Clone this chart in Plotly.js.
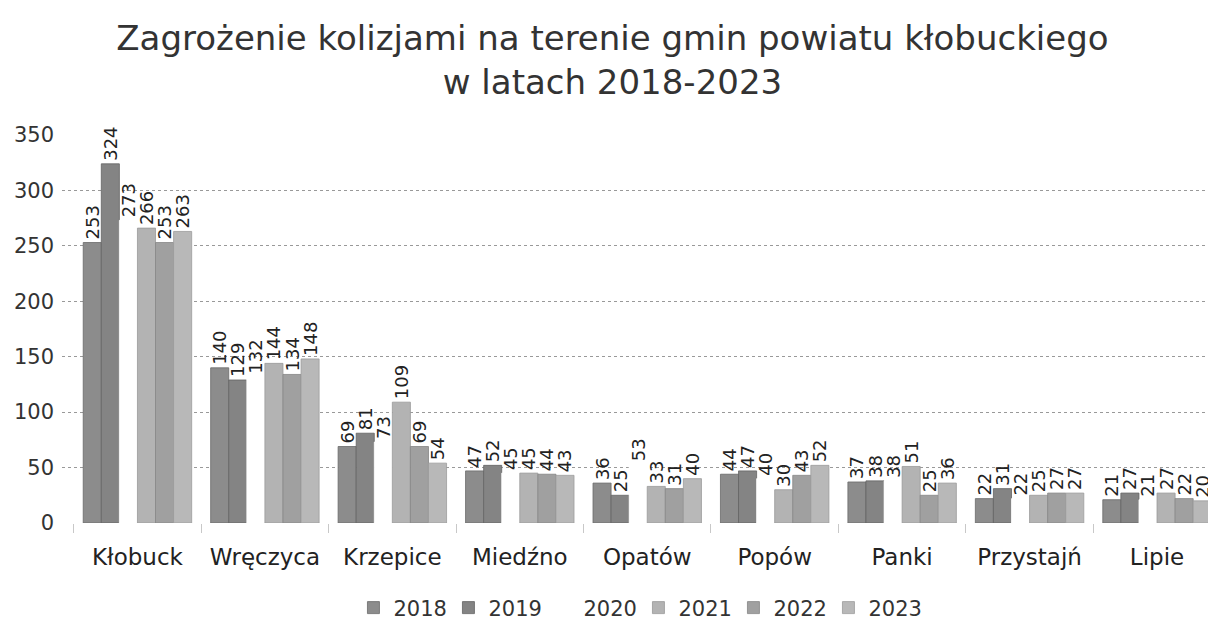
<!DOCTYPE html>
<html>
<head>
<meta charset="utf-8">
<script src="https://cdn.plot.ly/plotly-3.0.1.min.js"></script>
<style>html,body{margin:0;padding:0;background:#fff;}#chart{width:1208px;height:625px;}</style>
</head>
<body>
<div id="chart"></div>
<script>
const categories = ["Kłobuck", "Wręczyca", "Krzepice", "Miedźno", "Opatów", "Popów", "Panki", "Przystajń", "Lipie"];
const years = ["2018", "2019", "2020", "2021", "2022", "2023"];
const v2018 = [253, 140, 69, 47, 36, 44, 37, 22, 21];
const v2019 = [324, 129, 81, 52, 25, 47, 38, 31, 27];
const v2020 = [273, 132, 73, 45, 53, 40, 38, 22, 21];
const v2021 = [266, 144, 109, 45, 33, 30, 51, 25, 27];
const v2022 = [253, 134, 69, 44, 31, 43, 25, 27, 22];
const v2023 = [263, 148, 54, 43, 40, 52, 36, 27, 20];
const seriesValues = [v2018, v2019, v2020, v2021, v2022, v2023];
const colors = ["#8c8c8c", "#848484", "#ffffff", "#b3b3b3", "#a0a0a0", "#b8b8b8"];
const lineColors = ["#6a6a6a", "#636363", "#ffffff", "#999999", "#858585", "#9c9c9c"];

const font = "DejaVu Sans, Verdana, sans-serif";
const traces = years.map((y, i) => ({
  type: "bar",
  name: y,
  x: categories,
  y: seriesValues[i],
  text: seriesValues[i].map(String),
  textposition: "outside",
  textangle: -90,
  constraintext: "none",
  cliponaxis: false,
  textfont: {family: font, size: 18, color: "#222"},
  marker: {color: colors[i], line: {color: lineColors[i], width: 0.8}},
  hoverinfo: "x+y+name"
}));

const layout = {
  width: 1208, height: 625,
  margin: {l: 62, r: 0, t: 135, b: 102, pad: 0, autoexpand: false},
  paper_bgcolor: "#fff", plot_bgcolor: "#fff",
  title: {
    text: "Zagrożenie kolizjami na terenie gmin powiatu kłobuckiego<br>w latach 2018-2023",
    font: {family: font, size: 34, color: "#333"},
    x: 0.507, xanchor: "center", yref: "container", y: 0.92, yanchor: "top"
  },
  barmode: "group",
  bargap: 0.149,
  bargroupgap: 0,
  xaxis: {
    range: [-0.592, 8.40],
    automargin: false,
    showgrid: false,
    showline: false,
    ticks: "outside",
    tickson: "boundaries",
    ticklen: 9,
    tickcolor: "#c8c8c8",
    tickwidth: 1,
    tickfont: {family: font, size: 23, color: "#222"},
    ticklabelstandoff: 18,
    zeroline: false
  },
  yaxis: {
    range: [0, 350],
    dtick: 50,
    automargin: false,
    showgrid: true,
    gridcolor: "#999",
    griddash: "dot",
    gridwidth: 1,
    zeroline: false,
    showline: false,
    ticks: "",
    tickfont: {family: font, size: 21, color: "#333"},
    ticklabelstandoff: 7
  },
  showlegend: true,
  legend: {
    orientation: "h",
    x: 0.503, xanchor: "center",
    y: -0.219, yanchor: "middle",
    font: {family: font, size: 21, color: "#333"},
    traceorder: "normal",
    entrywidth: 50
  }
};

Plotly.newPlot("chart", traces, layout, {displayModeBar: false, staticPlot: true});
</script>
</body>
</html>
